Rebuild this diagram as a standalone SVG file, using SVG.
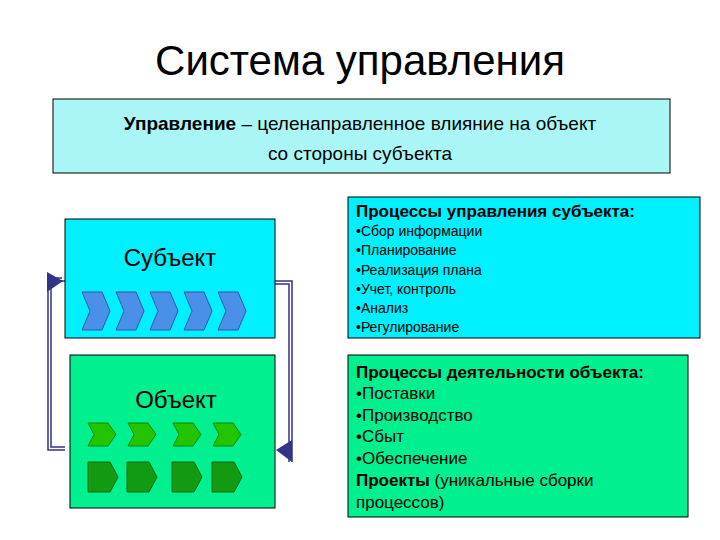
<svg xmlns="http://www.w3.org/2000/svg" width="720" height="540" viewBox="0 0 720 540">
<style>
text{font-family:"Liberation Sans",Arial,sans-serif;fill:#000}
.box{stroke:#000;stroke-width:1}
.b{font-weight:bold}
.s{font-size:14px}
.m{font-size:17px}
.con{fill:none;stroke:#333388;stroke-width:1.5}
</style>
<defs>
<path id="chev" d="M0,0 H20 L28,19 L20,38 H0 L8,19 Z" fill="#4a90e8" stroke="#2a5aa8" stroke-width="1"/>
<path id="gchev" d="M0,0 H20 L28,11.5 L20,23 H0 L6,11.5 Z" fill="#22c400" stroke="#118800" stroke-width="1"/>
<path id="pent" d="M0,0 H22 L30,15 L22,30 H0 Z" fill="#129a12" stroke="#0a6a0a" stroke-width="1"/>
</defs>
<rect width="720" height="540" fill="#fff"/>
<text x="360" y="75" font-size="42" text-anchor="middle">Система управления</text>
<g id="definition">
<rect class="box" x="53" y="99" width="617" height="74" fill="#aaf6f6"/>
<text x="360" y="130" font-size="19" text-anchor="middle"><tspan class="b">Управление</tspan> – целенаправленное влияние на объект</text>
<text x="360" y="160" font-size="19" text-anchor="middle">со стороны субъекта</text>
</g>
<g id="connectors">
<path class="con" d="M65,281 H48 V450 H65"/>
<path class="con" d="M62,278 H51 V447 H65" />
<path class="con" d="M275,281 H292 V462"/>
<path class="con" d="M275,284 H289 V462"/>
<path d="M63,281 L47,272 L47,292 Z" fill="#333388"/>
<path d="M276,450 L292,440 L292,462 Z" fill="#333388"/>
</g>
<g id="subject">
<rect class="box" x="65" y="219" width="210" height="119" fill="#00f0ff"/>
<text x="170" y="266" font-size="24" text-anchor="middle">Субъект</text>
<use href="#chev" x="82" y="292"/>
<use href="#chev" x="116" y="292"/>
<use href="#chev" x="150" y="292"/>
<use href="#chev" x="184" y="292"/>
<use href="#chev" x="218" y="292"/>
</g>
<g id="object">
<rect class="box" x="70" y="355" width="205" height="153" fill="#00f090"/>
<text x="176" y="408" font-size="24" text-anchor="middle">Объект</text>
<use href="#gchev" x="88" y="423"/>
<use href="#gchev" x="128" y="423"/>
<use href="#gchev" x="173" y="423"/>
<use href="#gchev" x="213" y="423"/>
<use href="#pent" x="88" y="462"/>
<use href="#pent" x="127" y="462"/>
<use href="#pent" x="172" y="462"/>
<use href="#pent" x="212" y="462"/>
</g>
<g id="subject-processes">
<rect class="box" x="348" y="197" width="352" height="141" fill="#00f0ff"/>
<text x="356" y="217" class="b m">Процессы управления субъекта:</text>
<text x="356" y="236" class="s">•Сбор информации</text>
<text x="356" y="255" class="s">•Планирование</text>
<text x="356" y="275" class="s">•Реализация плана</text>
<text x="356" y="294" class="s">•Учет, контроль</text>
<text x="356" y="313" class="s">•Анализ</text>
<text x="356" y="332" class="s">•Регулирование</text>
</g>
<g id="object-processes">
<rect class="box" x="348" y="355" width="340" height="162" fill="#00f090"/>
<text x="356" y="378" class="b m">Процессы деятельности объекта:</text>
<text x="356" y="399" class="m">•Поставки</text>
<text x="356" y="421" class="m">•Производство</text>
<text x="356" y="442" class="m">•Сбыт</text>
<text x="356" y="464" class="m">•Обеспечение</text>
<text x="356" y="486" class="m"><tspan class="b">Проекты</tspan> (уникальные сборки</text>
<text x="356" y="508" class="m">процессов)</text>
</g>
</svg>
